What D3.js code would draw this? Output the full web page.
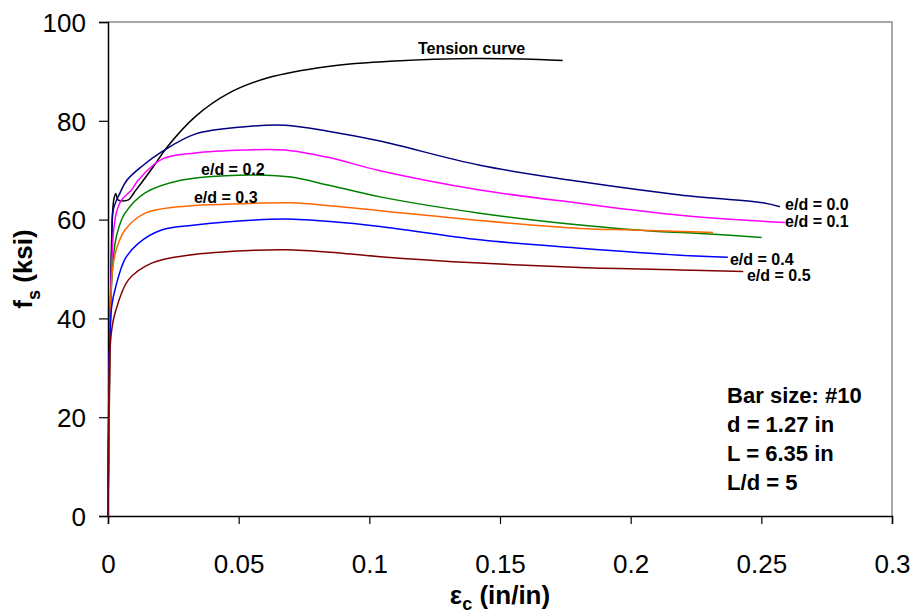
<!DOCTYPE html>
<html>
<head>
<meta charset="utf-8">
<script src="https://cdn.jsdelivr.net/npm/d3@7"></script>
<style>
  body { margin: 0; background: #fff; }
  svg text { font-family: Arial, "Liberation Sans", sans-serif; }
</style>
</head>
<body>
<svg id="chart" width="914" height="613"></svg>
<script>
// strain (in/in), stress (ksi)
const tension = [[0,0],[0.0008,35],[0.0015,58],[0.0022,64],[0.003,65.3],[0.0038,64],[0.0078,64],[0.01,65.5],
  [0.0129,67.5],[0.018,71.2],[0.0225,74.6],[0.0333,80.8],[0.0459,85.5],[0.0612,88.7],[0.0842,91],
  [0.1098,92.1],[0.14,92.6],[0.165,92.4],[0.174,92.2]];
const ed00 = [[0,0],[0.0008,40],[0.0015,56],[0.002,62],[0.0046,65.4],[0.0073,68],[0.013,70.8],[0.0205,73.7],
  [0.0333,77.3],[0.0524,78.8],[0.0677,79.1],[0.0842,77.9],[0.1041,75.9],[0.1423,71.0],[0.1806,67.7],
  [0.2189,65.0],[0.2506,63.4],[0.2571,62.6]];
const ed01 = [[0,0],[0.0008,40],[0.0015,52],[0.0022,58],[0.0033,61.6],[0.0052,64],[0.009,66],[0.0116,68],
  [0.0205,72.2],[0.0333,73.5],[0.0524,74.1],[0.0677,74.1],[0.0842,72.6],[0.1041,69.9],[0.1423,66.0],
  [0.1806,63.3],[0.2189,60.9],[0.259,59.4]];
const ed02 = [[0,0],[0.0008,38],[0.0015,48],[0.0027,55.2],[0.0042,58.5],[0.0065,61.3],[0.0142,65.4],
  [0.0282,68],[0.045,68.9],[0.06,69],[0.07,68.6],[0.085,66.9],[0.1041,64.6],[0.1423,61.3],[0.1806,58.9],
  [0.2101,57.6],[0.2265,57.2],[0.2501,56.4]];
const ed03 = [[0,0],[0.0008,36],[0.0017,49.8],[0.0035,54.5],[0.0065,57.9],[0.0142,61.3],[0.0269,62.6],
  [0.0563,63.3],[0.07,63.4],[0.085,62.8],[0.1041,61.8],[0.1423,59.8],[0.1806,58.2],[0.2009,57.9],
  [0.2189,57.6],[0.2315,57.4]];
const ed04 = [[0,0],[0.0007,35],[0.0014,42.4],[0.003,46.5],[0.0065,52],[0.0116,55.2],[0.0205,57.9],
  [0.0333,58.9],[0.0563,59.9],[0.068,60.1],[0.085,59.6],[0.1041,58.6],[0.1423,55.9],[0.1806,54.2],
  [0.2189,52.8],[0.2372,52.4]];
const ed05 = [[0,0],[0.0007,33],[0.0015,38],[0.0027,41.1],[0.0078,47.8],[0.0167,51.2],[0.0307,52.8],
  [0.0563,53.8],[0.068,53.9],[0.085,53.4],[0.1041,52.5],[0.1423,51.2],[0.1806,50.3],[0.2189,49.8],
  [0.2431,49.5]];

const seriesNames = ['Tension curve', 'e/d = 0.0', 'e/d = 0.1', 'e/d = 0.2', 'e/d = 0.3', 'e/d = 0.4', 'e/d = 0.5'];
const seriesValues = [tension, ed00, ed01, ed02, ed03, ed04, ed05];
const seriesColors = ['#000000', '#000080', '#ff00ff', '#008000', '#ff6600', '#0000ff', '#800000'];
// label anchor (left / baseline) in data units
const labelPos = [[0.1186, 93.5], [0.2591, 61.9], [0.2591, 58.5], [0.0356, 69.0], [0.0329, 63.4], [0.238, 50.9], [0.2445, 47.6]];

const xTicks = [0, 0.05, 0.1, 0.15, 0.2, 0.25, 0.3];
const yTicks = [0, 20, 40, 60, 80, 100];
const infoLines = ['Bar size: #10', 'd = 1.27 in', 'L = 6.35 in', 'L/d = 5'];

const MARGIN = {top: 22, right: 22, bottom: 97, left: 108};
const WIDTH = 914, HEIGHT = 613;

const svg = d3.select('#chart');

const xScale = d3.scaleLinear().domain([0, 0.3])
    .range([MARGIN.left, WIDTH - MARGIN.right]);
const yScale = d3.scaleLinear().domain([0, 100])
    .range([HEIGHT - MARGIN.bottom, MARGIN.top]);

// plot area border (top/right grey)
svg.append('path')
    .attr('d', `M${xScale(0)},${yScale(100)}H${xScale(0.3)}V${yScale(0)}`)
    .attr('fill', 'none')
    .attr('stroke', '#8c8c8c')
    .attr('stroke-width', 1.5);

// axes
const xAxis = d3.axisBottom(xScale).tickValues(xTicks).tickSize(8).tickFormat(d3.format('~g'));
const gx = svg.append('g')
    .attr('transform', `translate(0, ${yScale(0)})`)
    .call(xAxis);
gx.selectAll('text').attr('dy', 0).attr('y', 57).attr('font-size', 26).attr('fill', '#000');

const yAxis = d3.axisLeft(yScale).tickValues(yTicks).tickSize(9);
const gy = svg.append('g')
    .attr('transform', `translate(${xScale(0)}, 0)`)
    .call(yAxis);
gy.selectAll('text').attr('x', -22).attr('dy', '0.36em').attr('font-size', 26).attr('fill', '#000');

[gx, gy].forEach(g => {
    g.select('.domain').attr('stroke', '#000').attr('stroke-width', 1.5);
    g.selectAll('.tick line').attr('stroke', '#000').attr('stroke-width', 1.2);
    g.attr('font-family', null);
});

// curves
const line = d3.line()
    .x(d => xScale(d[0]))
    .y(d => yScale(d[1]))
    .curve(d3.curveCatmullRom.alpha(0.5));

svg.append('g')
    .selectAll('path')
    .data(seriesValues)
    .join('path')
    .attr('d', line)
    .attr('fill', 'none')
    .attr('stroke', (d, i) => seriesColors[i])
    .attr('stroke-width', 1.5);

// curve labels
svg.append('g')
    .selectAll('text')
    .data(seriesNames)
    .join('text')
    .attr('x', (d, i) => xScale(labelPos[i][0]))
    .attr('y', (d, i) => yScale(labelPos[i][1]))
    .attr('font-size', 16)
    .attr('font-weight', 'bold')
    .text(d => d);

// specimen info
svg.append('g')
    .selectAll('text')
    .data(infoLines)
    .join('text')
    .attr('x', xScale(0.2369))
    .attr('y', (d, i) => yScale(22.9) + i * 29)
    .attr('font-size', 22)
    .attr('font-weight', 'bold')
    .text(d => d);

// axis titles
const xTitle = svg.append('text')
    .attr('x', (xScale(0) + xScale(0.3)) / 2)
    .attr('y', 604)
    .attr('text-anchor', 'middle')
    .attr('font-size', 26)
    .attr('font-weight', 'bold');
xTitle.append('tspan').text('ε');
xTitle.append('tspan').attr('font-size', 18).attr('dy', 6).text('c');
xTitle.append('tspan').attr('dy', -6).text(' (in/in)');

const yTitle = svg.append('text')
    .attr('transform', `translate(32, ${(yScale(0) + yScale(100)) / 2}) rotate(-90)`)
    .attr('text-anchor', 'middle')
    .attr('font-size', 26)
    .attr('font-weight', 'bold');
yTitle.append('tspan').text('f');
yTitle.append('tspan').attr('font-size', 18).attr('dy', 8).text('s');
yTitle.append('tspan').attr('dy', -8).text(' (ksi)');
</script>
</body>
</html>
